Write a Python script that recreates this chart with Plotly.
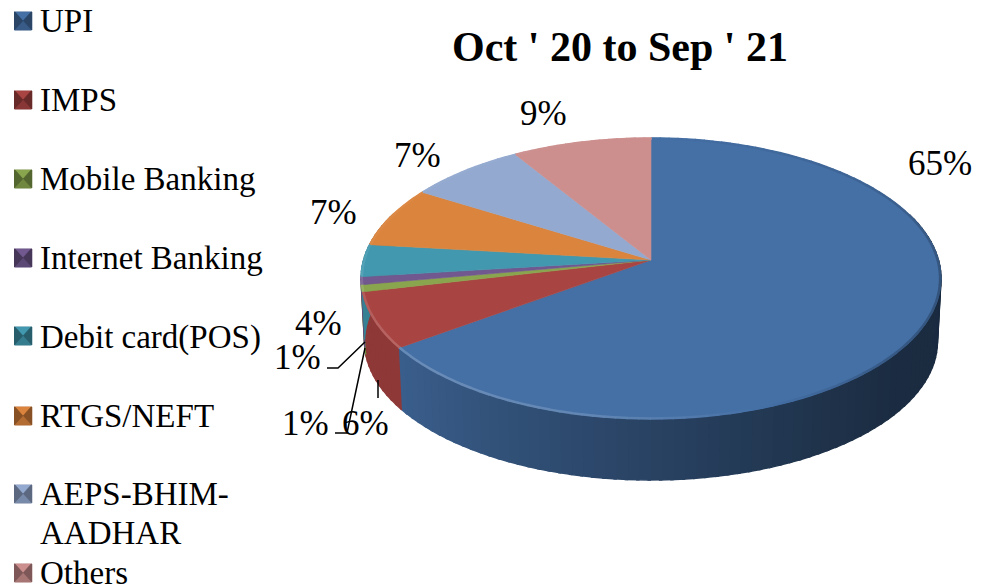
import numpy as np
import plotly.graph_objects as go

categories = ["UPI", "IMPS", "Mobile Banking", "Internet Banking",
              "Debit card(POS)", "RTGS/NEFT", "AEPS-BHIM-<br>AADHAR", "Others"]
shares = [65.0, 6.4, 0.8, 0.9, 3.7, 7.0, 7.4, 8.8]
title_text = "Oct ' 20 to Sep ' 21"

colors = ["#4570A6", "#A84442", "#89A54E", "#71588F", "#4198AF", "#DB843D", "#93A9CF", "#CC8F8E"]
legend_y = [21, 100, 179, 258, 336, 416, 494, 573]
legend_text_y = [21, 100, 179, 258, 337, 416, 494, 573]
label_xy = [(940, 163), (365, 423), (297, 357), (305, 423), (318, 323), (333, 212), (417, 155), (543, 113)]
leaders = [[(327, 368), (338, 368), (365, 342)],
           [(335, 433), (347, 433), (365, 348)],
           [(378, 380), (378, 398)]]

FONT = "Liberation Serif"
CX, CY, A, B, K = 651.0, 260.0, 287.5, 138.0, 0.1316
DEPTH = 63.0


def rim(theta_deg, scale=1.0, dy=0.0):
    t = np.radians(np.asarray(theta_deg, dtype=float))
    u, v = np.sin(t), -np.cos(t)
    d = 1 - K * v
    return CX + scale * A * u / d, CY + scale * B * v / d + dy


def rgb(hexc):
    return np.array([int(hexc[i:i + 2], 16) for i in (1, 3, 5)], dtype=float)


def shade(hexc, f):
    c = rgb(hexc)
    c = c * f if f <= 1 else c + (255 - c) * (f - 1)
    return "rgb(%d,%d,%d)" % tuple(np.clip(c, 0, 255))


def poly(fig, xs, ys, color, name=None, width=0.6):
    fig.add_trace(go.Scatter(
        x=list(xs), y=list(ys), mode="lines", fill="toself", fillcolor=color,
        line=dict(color=color, width=width), showlegend=False,
        hoverinfo="text" if name else "skip", text=name,
    ))


fig = go.Figure()
edges = 3.6 * np.concatenate([[0], np.cumsum(shares)])
STRIP = 2.0

# side wall (front half)
for i, c in enumerate(colors):
    a0, a1 = edges[i], edges[i + 1]
    if a1 < 70 or a0 > 290:
        continue
    steps = np.arange(max(a0, 70), min(a1, 290) + STRIP, STRIP)
    steps[-1] = min(a1, 290)
    for s0, s1 in zip(steps[:-1], steps[1:]):
        if s1 <= s0:
            continue
        mid = (s0 + s1) / 2
        f = np.interp(mid, [70, 130, 150, 180, 210, 234, 290], [.38, .40, .46, .60, .74, .85, .85])
        th = np.linspace(s0, s1 + 0.5, 4)
        xt, yt = rim(th)
        xb, yb = rim(th, 0.988, DEPTH)
        poly(fig, np.r_[xt, xb[::-1]], np.r_[yt, yb[::-1]], shade(c, f), width=1.4)

# top faces
for i, c in enumerate(colors):
    th = np.linspace(edges[i], edges[i + 1], max(int(edges[i + 1] - edges[i]) * 2, 6))
    x, y = rim(th)
    pct = f"{categories[i].replace('<br>', ' ')}: {shares[i]:.0f}%"
    poly(fig, np.r_[CX, x, CX], np.r_[CY, y, CY], c, pct)

# bevel along the rim
for i, c in enumerate(colors):
    a0, a1 = edges[i], edges[i + 1]
    steps = np.arange(a0, a1 + 2, 2.0)
    steps[-1] = a1
    for s0, s1 in zip(steps[:-1], steps[1:]):
        if s1 <= s0:
            continue
        mid = (s0 + s1) / 2
        f = float(np.interp(mid, [0, 60, 100, 130, 160, 190, 225, 262, 280, 360],
                            [1.0, .88, .74, .80, 1.0, 1.16, 1.2, 1.12, 1.05, 1.0]))
        x, y = rim([s0, s1 + 0.2], 0.997)
        fig.add_trace(go.Scatter(x=x, y=y, mode="lines", showlegend=False, hoverinfo="skip",
                                 line=dict(color=shade(c, f), width=2.5)))

# leader lines
for pts in leaders:
    fig.add_trace(go.Scatter(x=[p[0] for p in pts], y=[p[1] for p in pts], mode="lines",
                             showlegend=False, hoverinfo="skip",
                             line=dict(color="#000000", width=1.5)))

# legend swatches
SW = 9.0
for yc, c in zip(legend_y, colors):
    x0, x1, xm = 14.0, 32.0, 23.0
    y0, y1 = yc - SW, yc + SW
    poly(fig, [x0, x1, x1, x0], [y0, y0, y1, y1], shade(c, .75))
    poly(fig, [x0 + 1, x1 - 1, xm], [y0, y0, yc], shade(c, 1.0))
    poly(fig, [x0, x0 + 1, xm, x0 + 1, x0], [y0, y0, yc, y1, y1], shade(c, .62))
    poly(fig, [x1, x1 - 1, xm, x1 - 1, x1], [y0, y0, yc, y1, y1], shade(c, .62))
    poly(fig, [x0 + 1, x1 - 1, xm], [y1, y1, yc], shade(c, .82))

annotations = []
for yc, name in zip(legend_text_y, categories):
    if "<br>" in name:
        first, second = name.split("<br>")
        annotations.append(dict(x=38, y=yc, text=first, xanchor="left", yanchor="middle"))
        annotations.append(dict(x=38, y=yc + 39, text=second, xanchor="left", yanchor="middle"))
    else:
        annotations.append(dict(x=38, y=yc, text=name, xanchor="left", yanchor="middle"))
for a in annotations:
    a.update(font=dict(family=FONT, size=33, color="#000000"))
for (x, y), s in zip(label_xy, shares):
    annotations.append(dict(x=x, y=y, text=f"{s:.0f}%", xanchor="center", yanchor="middle",
                            font=dict(family=FONT, size=35, color="#000000")))
for a in annotations:
    a.update(xref="x", yref="y", showarrow=False)

fig.update_layout(
    width=983, height=587, margin=dict(l=0, r=0, t=0, b=0),
    paper_bgcolor="#FFFFFF", plot_bgcolor="#FFFFFF", showlegend=False,
    title=dict(text=f"<b>{title_text}</b>", x=620 / 983, y=1 - 46 / 587,
               xanchor="center", yanchor="middle",
               font=dict(family=FONT, size=42, color="#000000")),
    xaxis=dict(range=[0, 983], visible=False, fixedrange=True),
    yaxis=dict(range=[587, 0], visible=False, fixedrange=True),
    annotations=annotations,
)
fig.write_html("out.html", config=dict(displayModeBar=False),
               post_script="document.body.style.margin='0';document.documentElement.style.overflow='hidden';")
